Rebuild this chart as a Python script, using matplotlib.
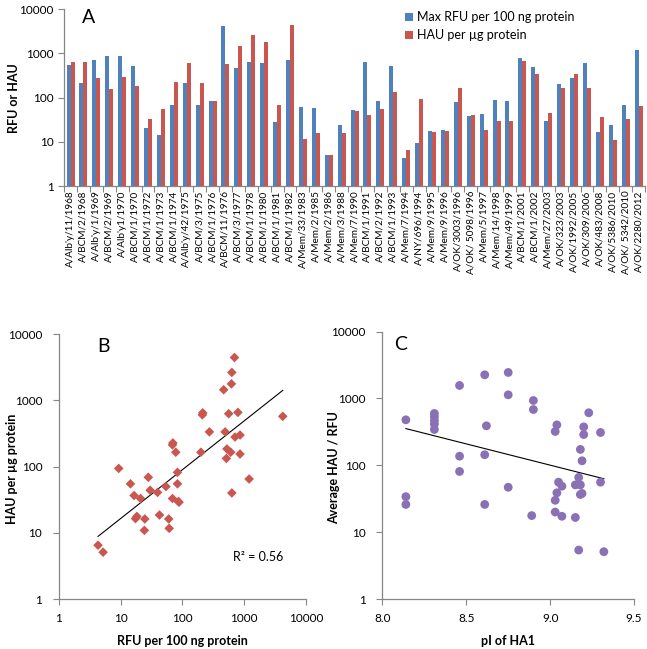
import numpy as np
import matplotlib.pyplot as plt
from matplotlib.ticker import FixedLocator

plt.rcParams['font.family'] = ['Lato', 'DejaVu Sans']

strains = ["A/Alb'y/11/1968", "A/BCM/2/1968", "A/Alb'y/1/1969", "A/BCM/2/1969",
           "A/Alb'y1/1970", "A/BCM/1/1970", "A/BCM/1/1972", "A/BCM/1/1973",
           "A/BCM/1/1974", "A/Alb'y/42/1975", "A/BCM/3/1975", "A/BCM/1/1976",
           "A/BCM/11/1976", "A/BCM/3/1977", "A/BCM/1/1978", "A/BCM/1/1980",
           "A/BCM/1/1981", "A/BCM/1/1982", "A/Mem/33/1983", "A/Mem/2/1985",
           "A/Mem/2/1986", "A/Mem/3/1988", "A/Mem/7/1990", "A/BCM/1/1991",
           "A/BCM/2/1992", "A/BCM/1/1993", "A/Mem/7/1994", "A/NY/696/1994",
           "A/Mem/9/1995", "A/Mem/9/1996", "A/OK/3003/1996", "A/OK/ 5098/1996",
           "A/Mem/5/1997", "A/Mem/14/1998", "A/Mem/49/1999", "A/BCM/1/2001",
           "A/BCM/1/2002", "A/Mem/27/2003", "A/OK/323/2003", "A/OK/1992/2005",
           "A/OK/309/2006", "A/OK/483/2008", "A/OK/5386/2010", "A/OK/ 5342/2010",
           "A/OK/2280/2012"]

rfu = [560, 213, 710, 855, 855, 525, 21, 14.4, 70, 210, 69, 83,
       4200, 465, 630, 620, 28, 695, 61, 60, 5.2, 24.6, 54, 630,
       83, 515, 4.3, 9.3, 17.4, 18.3, 78, 39.5, 42.5, 88, 86, 790,
       490, 30, 199, 273, 605, 16.5, 24.2, 69, 1200]

hau = [630, 650, 280, 155, 300, 185, 33, 55, 228, 605, 213, 82,
       575, 1450, 2650, 1780, 69, 4450, 11.7, 16.2, 5.1, 16.2, 50, 40,
       55, 133, 6.5, 94, 16.4, 17.7, 165, 40.8, 18.6, 29, 29.8, 660,
       335, 44, 165, 335, 165, 36.6, 10.9, 33, 65]

# panel C: pI of HA1 vs average HAU / RFU
pi_ha1 = [8.14, 8.14, 8.14, 8.31, 8.31, 8.31, 8.31, 8.31, 8.46, 8.46, 8.46,
          8.61, 8.62, 8.61, 8.61, 8.75, 8.75, 8.75, 8.89, 8.90, 8.90,
          9.04, 9.03, 9.05, 9.07, 9.04, 9.03, 9.03, 9.07, 9.15, 9.17,
          9.17, 9.15, 9.18, 9.18, 9.19, 9.18, 9.19, 9.20, 9.20, 9.23,
          9.30, 9.30, 9.32]
hau_rfu = [480, 34, 26, 597, 532, 464, 413, 344, 1566, 137, 81,
           2260, 390, 144, 26, 2450, 1135, 47, 17.7, 933, 684,
           403, 321, 56, 48.8, 38.8, 30, 20, 17.3, 16.6, 5.4,
           66, 51, 51, 36.6, 38, 173, 117, 376, 289, 611,
           310, 56, 5.1]

blue = '#4F81BD'
red = '#C9564F'
purple = '#8A70B4'
spine_col = '#868686'
decades = [1, 10, 100, 1000, 10000]
decade_labels = ['1', '10', '100', '1000', '10000']

fig = plt.figure(figsize=(6.47, 6.49), dpi=100)

def style_axis(ax):
    for s in ['top', 'right']:
        ax.spines[s].set_visible(False)
    for s in ['left', 'bottom']:
        ax.spines[s].set_color(spine_col)
        ax.spines[s].set_linewidth(0.9)
    ax.tick_params(which='both', color=spine_col, length=4, width=0.8, direction='out')

# ---- panel A ----
axA = fig.add_axes([0.099, 0.713, 0.898, 0.273])
x = np.arange(len(strains))
w = 0.31
axA.bar(x - w / 2, rfu, w, color=blue, label='Max RFU per 100 ng protein')
axA.bar(x + w / 2, hau, w, color=red, label='HAU per µg protein')
axA.set_yscale('log')
axA.set_ylim(1, 10000)
axA.set_xlim(-0.5, len(strains) - 0.5)
axA.yaxis.set_minor_locator(FixedLocator([]))
axA.set_yticks(decades)
axA.set_yticklabels(decade_labels, fontsize=8.5)
axA.set_xticks(x)
axA.set_xticklabels(strains, rotation=90, fontsize=7.2)
axA.set_xticks(np.arange(len(strains) + 1) - 0.5, minor=True)
style_axis(axA)
axA.tick_params(axis='x', which='major', length=0, pad=3)
axA.tick_params(axis='x', which='minor', length=4)
axA.set_ylabel('RFU or HAU', fontsize=9, fontweight='bold')
axA.yaxis.set_label_coords(-0.075, 0.5)
axA.text(0.03, 1.0, 'A', transform=axA.transAxes, fontsize=14, va='top')
axA.legend(loc='upper left', bbox_to_anchor=(0.568, 1.05), frameon=False, fontsize=9,
           handlelength=0.6, handleheight=0.6, handletextpad=0.3, labelspacing=0.45)

# ---- panel B ----
axB = fig.add_axes([0.091, 0.077, 0.382, 0.408])
axB.scatter(rfu, hau, marker='D', s=24, color=red, edgecolors='none', zorder=3)
lx = np.log10(rfu)
ly = np.log10(hau)
b1, b0 = np.polyfit(lx, ly, 1)
xs = np.array([min(rfu), max(rfu)])
axB.plot(xs, 10 ** (b0 + b1 * np.log10(xs)), color='black', lw=0.8, zorder=2)
axB.set_xscale('log')
axB.set_yscale('log')
axB.set_xlim(1, 10000)
axB.set_ylim(1, 10000)
for a in (axB.xaxis, axB.yaxis):
    a.set_minor_locator(FixedLocator([]))
axB.set_xticks(decades)
axB.set_xticklabels(decade_labels, fontsize=8.5)
axB.set_yticks(decades)
axB.set_yticklabels(decade_labels, fontsize=8.5)
style_axis(axB)
axB.tick_params(axis='y', pad=8)
axB.tick_params(axis='x', pad=6)
axB.set_xlabel('RFU per 100 ng protein', fontsize=9, fontweight='bold', labelpad=8)
axB.set_ylabel('HAU per µg protein', fontsize=9, fontweight='bold')
axB.yaxis.set_label_coords(-0.165, 0.49)
axB.text(0.155, 0.985, 'B', transform=axB.transAxes, fontsize=14, va='top')
axB.text(0.907, 0.158, 'R² = 0.56', transform=axB.transAxes, fontsize=9,
         ha='right', va='center')

# ---- panel C ----
axC = fig.add_axes([0.591, 0.077, 0.389, 0.412])
axC.scatter(pi_ha1, hau_rfu, marker='o', s=40, color=purple, edgecolors='none', zorder=3)
c1, c0 = np.polyfit(pi_ha1, np.log10(hau_rfu), 1)
xc = np.array([min(pi_ha1), max(pi_ha1)])
axC.plot(xc, 10 ** (c0 + c1 * xc), color='black', lw=0.8, zorder=2)
axC.set_yscale('log')
axC.set_xlim(8.0, 9.5)
axC.set_ylim(1, 10000)
axC.yaxis.set_minor_locator(FixedLocator([]))
axC.set_xticks([8.0, 8.5, 9.0, 9.5])
axC.set_xticklabels(['8.0', '8.5', '9.0', '9.5'], fontsize=8.5)
axC.set_yticks(decades)
axC.set_yticklabels(decade_labels, fontsize=8.5)
style_axis(axC)
axC.tick_params(axis='y', pad=8)
axC.tick_params(axis='x', pad=6)
axC.set_xlabel('pI of HA1', fontsize=9, fontweight='bold', labelpad=8)
axC.set_ylabel('Average HAU / RFU', fontsize=9, fontweight='bold')
axC.yaxis.set_label_coords(-0.17, 0.49)
axC.text(0.045, 0.985, 'C', transform=axC.transAxes, fontsize=14, va='top')

fig.savefig('out.png', dpi=100)
